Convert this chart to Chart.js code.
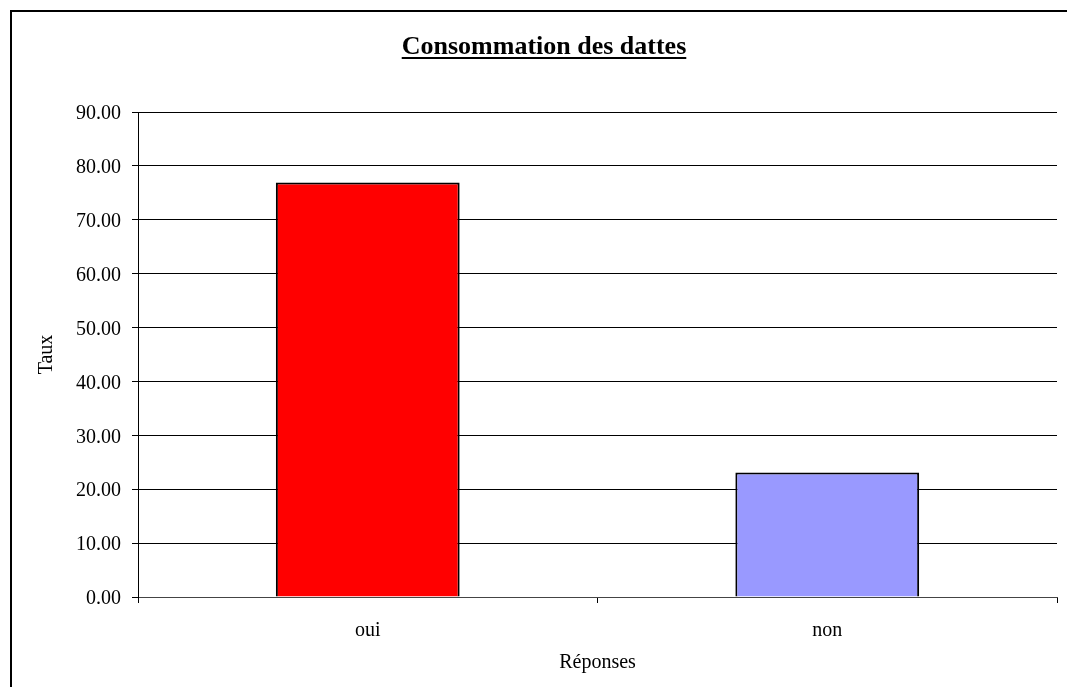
<!DOCTYPE html>
<html>
<head>
<meta charset="utf-8">
<script src="https://cdn.jsdelivr.net/npm/chart.js@4/dist/chart.umd.min.js"></script>
<style>
    html, body { margin: 0; padding: 0; background: #fff; overflow: hidden; }
    #frame {
        position: absolute; left: 10px; top: 10px; width: 1100px; height: 700px;
        border-left: 2px solid #000; border-top: 2px solid #000;
    }
    #chart { position: absolute; left: 0; top: 0; }
</style>
</head>
<body>
<div id="frame"></div>
<canvas id="chart" width="1067" height="687"></canvas>
<script>
// Chart data
const categories = ['oui', 'non'];
const taux = [76.92, 23.08];
const barColors = ['#FF0000', '#9999FF'];
const chartTitle = 'Consommation des dattes';

const serif = "'Liberation Serif', 'Times New Roman', serif";

// Title with underline, drawn above the plot
const underlinedTitle = {
    id: 'underlinedTitle',
    afterDraw(chart) {
        const ctx = chart.ctx;
        ctx.save();
        ctx.font = 'bold 26px ' + serif;
        ctx.fillStyle = '#000';
        ctx.textAlign = 'center';
        ctx.textBaseline = 'alphabetic';
        const cx = 544, baseY = 54;
        ctx.fillText(chartTitle, cx, baseY);
        const w = ctx.measureText(chartTitle).width;
        ctx.fillRect(cx - w / 2, baseY + 3, w, 2);
        ctx.restore();
    }
};

const ctx = document.getElementById('chart').getContext('2d');
new Chart(ctx, {
    type: 'bar',
    data: {
        labels: categories,
        datasets: [{
            data: taux,
            backgroundColor: barColors,
            borderColor: '#000',
            borderWidth: 2,
            categoryPercentage: 1.0,
            barPercentage: 0.4
        }]
    },
    options: {
        responsive: false,
        animation: false,
        devicePixelRatio: 1,
        layout: { padding: { left: 0, top: 112, right: 10, bottom: 0 } },
        plugins: {
            legend: { display: false },
            tooltip: { enabled: false },
            title: { display: false }
        },
        scales: {
            x: {
                afterFit: scale => { scale.height = 90; },
                grid: {
                    display: true,
                    offset: true,
                    drawOnChartArea: false,
                    drawTicks: true,
                    tickLength: 6,
                    color: '#000'
                },
                border: { display: true, color: '#444', width: 1 },
                ticks: {
                    color: '#000',
                    padding: 16,
                    font: { family: serif, size: 20 }
                },
                title: {
                    display: true,
                    text: 'Réponses',
                    color: '#000',
                    font: { family: serif, size: 20 },
                    padding: { top: 0, bottom: 12 }
                }
            },
            y: {
                min: 0,
                max: 90,
                afterFit: scale => { scale.width = 138; },
                ticks: {
                    stepSize: 10,
                    color: '#000',
                    padding: 11,
                    labelOffset: 2,
                    font: { family: serif, size: 20 },
                    callback: v => Number(v).toFixed(2)
                },
                grid: {
                    color: '#000',
                    lineWidth: 1,
                    drawTicks: true,
                    tickLength: 6
                },
                border: { display: true, color: '#000', width: 1 },
                title: {
                    display: true,
                    text: 'Taux',
                    color: '#000',
                    font: { family: serif, size: 20 },
                    padding: { top: 35, bottom: 0 }
                }
            }
        }
    },
    plugins: [underlinedTitle]
});
</script>
</body>
</html>
